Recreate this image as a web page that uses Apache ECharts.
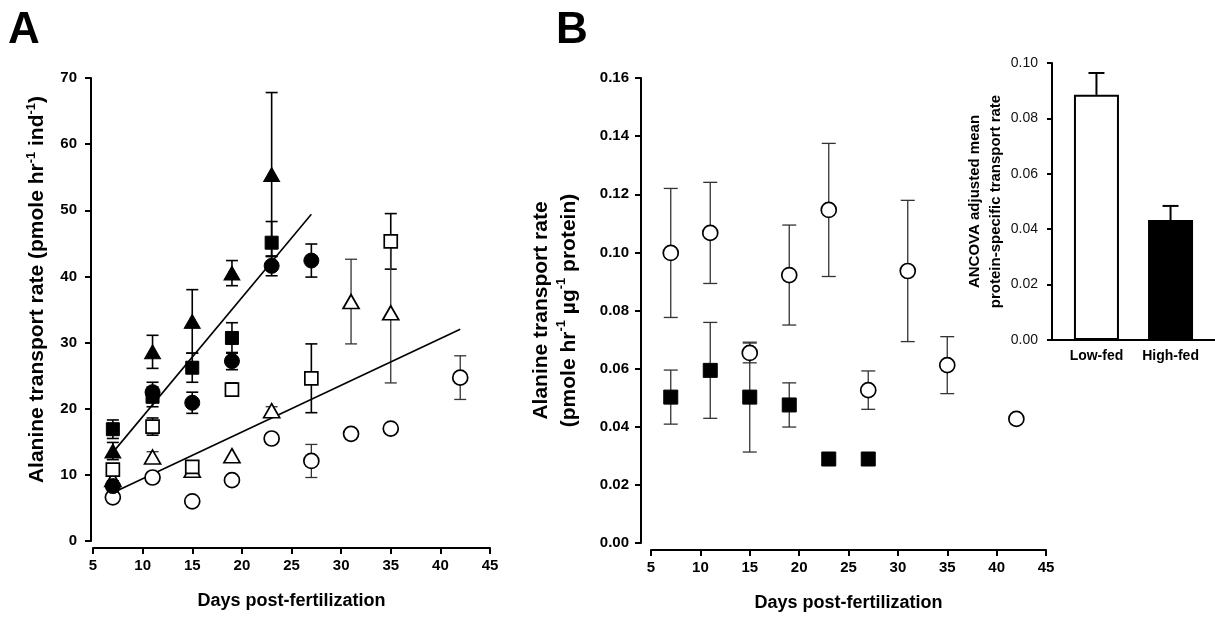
<!DOCTYPE html>
<html>
<head>
<meta charset="utf-8">
<script src="https://cdn.jsdelivr.net/npm/echarts@6/dist/echarts.min.js"></script>
<style>
  html, body { margin: 0; padding: 0; background: #fff; }
  #chart { width: 1215px; height: 633px; }
</style>
</head>
<body>
<div id="chart"></div>
<script>
// ---- Panel A: per-individual alanine transport rate ----
// filled triangles
const triFilledDays = [7, 11, 15, 19, 23];
const triFilledMean = [13.6, 28.6, 33.2, 40.5, 55.4];
const triFilledErr  = [1.3, 2.5, 4.8, 1.9, 12.4];
// filled squares
const sqFilledDays = [7, 11, 15, 19, 23];
const sqFilledMean = [16.9, 21.8, 26.2, 30.7, 45.1];
const sqFilledErr  = [1.4, 1.5, 2.2, 2.3, 3.2];
// filled circles
const ciFilledDays = [7, 11, 15, 19, 23, 27];
const ciFilledMean = [8.3, 22.5, 20.9, 27.2, 41.6, 42.4];
const ciFilledErr  = [0.8, 1.5, 1.6, 1.3, 1.5, 2.5];
// open squares
const sqOpenDays = [7, 11, 15, 19, 27, 35];
const sqOpenMean = [10.8, 17.3, 11.2, 22.9, 24.6, 45.3];
const sqOpenErr  = [0.8, 1.3, 0.5, 1.0, 5.2, 4.2];
// open triangles
const triOpenDays = [7, 11, 15, 19, 23, 31, 35];
const triOpenMean = [9.3, 12.7, 10.7, 12.9, 19.7, 36.2, 34.5];
const triOpenErr  = [0, 0.8, 0, 0, 0.6, 6.4, 10.6];
// open circles
const ciOpenDays = [7, 11, 15, 19, 23, 27, 31, 35, 42];
const ciOpenMean = [6.6, 9.6, 6.0, 9.2, 15.5, 12.1, 16.2, 17.0, 24.7];
const ciOpenErr  = [0, 0, 0, 0, 0, 2.5, 0, 0, 3.3];

// fitted regression lines (end points)
const fitHighDays = [7, 27];
const fitHighVals = [13.4, 49.4];
const fitLowDays  = [7, 42];
const fitLowVals  = [7.3, 32.0];

// ---- Panel B: protein-specific transport rate ----
const lowFedDays = [7, 11, 15, 19, 23, 27, 31, 35, 42];
const lowFedMean = [0.0998, 0.1067, 0.0654, 0.0922, 0.1146, 0.0526, 0.0936, 0.0612, 0.0427];
const lowFedErr  = [0.0222, 0.0174, 0.0034, 0.0172, 0.0229, 0.0066, 0.0243, 0.0098, 0];
const highFedDays = [7, 11, 15, 19, 23, 27];
const highFedMean = [0.0502, 0.0594, 0.0502, 0.0475, 0.0289, 0.0289];
const highFedErr  = [0.0093, 0.0165, 0.0189, 0.0076, 0, 0];

// ---- Inset: ANCOVA adjusted means ----
const insetGroups = ['Low-fed', 'High-fed'];
const insetMean = [0.0885, 0.0433];
const insetErr  = [0.0079, 0.0051];

const FONT = '"Liberation Sans", Arial, sans-serif';

function pairs(xs, ys) { return xs.map((x, i) => [x, ys[i]]); }
function errRows(xs, ys, es) {
  const out = [];
  xs.forEach((x, i) => { if (es[i] > 0) out.push([x, ys[i] - es[i], ys[i] + es[i]]); });
  return out;
}

function errorBarSeries(rows, xi, color, width, capHalf) {
  return {
    type: 'custom', xAxisIndex: xi, yAxisIndex: xi, z: 1, silent: true,
    data: rows,
    renderItem: function (params, api) {
      const lo = api.coord([api.value(0), api.value(1)]);
      const hi = api.coord([api.value(0), api.value(2)]);
      const st = { stroke: color, lineWidth: width, fill: null };
      return {
        type: 'group',
        children: [
          { type: 'line', shape: { x1: lo[0], y1: lo[1], x2: hi[0], y2: hi[1] }, style: st },
          { type: 'line', shape: { x1: lo[0] - capHalf, y1: lo[1], x2: lo[0] + capHalf, y2: lo[1] }, style: st },
          { type: 'line', shape: { x1: hi[0] - capHalf, y1: hi[1], x2: hi[0] + capHalf, y2: hi[1] }, style: st }
        ]
      };
    }
  };
}

function markers(data, xi, symbol, size, filled) {
  return {
    type: 'scatter', xAxisIndex: xi, yAxisIndex: xi, z: 5, silent: true,
    symbol: symbol, symbolSize: size, data: data,
    itemStyle: filled
      ? { color: '#000', borderColor: '#000', borderWidth: 1, opacity: 1 }
      : { color: '#fff', borderColor: '#000', borderWidth: 1.7, opacity: 1 }
  };
}

function fitLine(xs, ys) {
  return {
    type: 'line', xAxisIndex: 0, yAxisIndex: 0, z: 3, silent: true,
    showSymbol: false, symbol: 'none', data: pairs(xs, ys),
    lineStyle: { color: '#000', width: 1.6 }
  };
}

const axisLineBold = { show: true, onZero: false, lineStyle: { color: '#000', width: 2 } };
const tickBold = { show: true, inside: false, length: 6, lineStyle: { color: '#000', width: 2 } };
const boldLabel = { fontFamily: FONT, fontWeight: 'bold', fontSize: 15, color: '#000' };
const supRich = {
  sup: { fontFamily: FONT, fontWeight: 'bold', fontSize: 13, verticalAlign: 'top', lineHeight: 14, color: '#000' }
};
const titleStyle = { fontFamily: FONT, fontWeight: 'bold', fontSize: 18, color: '#000' };

const option = {
  backgroundColor: '#fff',
  animation: false,
  grid: [
    { left: 93, top: 78, width: 397, height: 463 },
    { left: 651, top: 78, width: 395, height: 465 },
    { left: 1052, top: 63, width: 163, height: 277 }
  ],
  xAxis: [
    {
      gridIndex: 0, type: 'value', min: 5, max: 45, interval: 5, offset: 7,
      axisLine: axisLineBold, axisTick: tickBold, splitLine: { show: false },
      axisLabel: Object.assign({ margin: 10 }, boldLabel),
      name: 'Days post-fertilization', nameLocation: 'middle', nameGap: 44,
      nameTextStyle: titleStyle
    },
    {
      gridIndex: 1, type: 'value', min: 5, max: 45, interval: 5, offset: 7,
      axisLine: axisLineBold, axisTick: tickBold, splitLine: { show: false },
      axisLabel: Object.assign({ margin: 10 }, boldLabel),
      name: 'Days post-fertilization', nameLocation: 'middle', nameGap: 44,
      nameTextStyle: titleStyle
    },
    {
      gridIndex: 2, type: 'value', min: -0.6, max: 1.6,
      axisLine: axisLineBold, splitLine: { show: false },
      axisTick: { show: false },
      axisLabel: Object.assign({ margin: 9, customValues: [0, 1],
        formatter: v => insetGroups[Math.round(v)] }, boldLabel, { fontSize: 14 })
    }
  ],
  yAxis: [
    {
      gridIndex: 0, type: 'value', min: 0, max: 70, interval: 10, offset: 2,
      axisLine: axisLineBold, axisTick: tickBold, splitLine: { show: false },
      axisLabel: Object.assign({ margin: 14 }, boldLabel),
      name: 'Alanine transport rate (pmole hr{sup|-1} ind{sup|-1})',
      nameLocation: 'middle', nameRotate: 90, nameGap: 42,
      nameTextStyle: { fontFamily: FONT, fontWeight: 'bold', fontSize: 21, color: '#000',
        lineHeight: 24, padding: [0, 0, 0, 40], rich: supRich }
    },
    {
      gridIndex: 1, type: 'value', min: 0, max: 0.16, interval: 0.02, offset: 10,
      axisLine: axisLineBold, axisTick: tickBold, splitLine: { show: false },
      axisLabel: Object.assign({ margin: 12, formatter: v => v.toFixed(2) }, boldLabel),
      name: 'Alanine transport rate\n(pmole hr{sup|-1} \u00b5g{sup|-1} protein)',
      nameLocation: 'middle', nameRotate: 90, nameGap: 58,
      nameTextStyle: { fontFamily: FONT, fontWeight: 'bold', fontSize: 21, color: '#000', lineHeight: 28, rich: supRich }
    },
    {
      gridIndex: 2, type: 'value', min: 0, max: 0.1, interval: 0.02,
      axisLine: axisLineBold, axisTick: { show: true, length: 5, lineStyle: { color: '#000', width: 2 } },
      splitLine: { show: false },
      axisLabel: { margin: 14, fontFamily: FONT, fontSize: 14, color: '#111', formatter: v => v.toFixed(2) },
      name: 'ANCOVA adjusted mean\nprotein-specific transport rate',
      nameLocation: 'middle', nameRotate: 90, nameGap: 46,
      nameTextStyle: { fontFamily: FONT, fontWeight: 'bold', fontSize: 15, color: '#000', lineHeight: 21 }
    }
  ],
  graphic: [
    { type: 'text', left: 8, top: 9, style: { text: 'A', fontFamily: FONT, fontWeight: 'bold', fontSize: 44, fill: '#000' } },
    { type: 'text', left: 556, top: 9, style: { text: 'B', fontFamily: FONT, fontWeight: 'bold', fontSize: 44, fill: '#000' } }
  ],
  series: [
    // panel A error bars
    errorBarSeries(errRows(triFilledDays, triFilledMean, triFilledErr), 0, '#000', 1.6, 6),
    errorBarSeries(errRows(sqFilledDays, sqFilledMean, sqFilledErr), 0, '#000', 1.6, 6),
    errorBarSeries(errRows(ciFilledDays, ciFilledMean, ciFilledErr), 0, '#000', 1.6, 6),
    errorBarSeries(errRows(sqOpenDays, sqOpenMean, sqOpenErr), 0, '#000', 1.6, 6),
    errorBarSeries(errRows(triOpenDays, triOpenMean, triOpenErr), 0, '#333', 1.3, 6),
    errorBarSeries(errRows(ciOpenDays, ciOpenMean, ciOpenErr), 0, '#333', 1.3, 6),
    fitLine(fitHighDays, fitHighVals),
    fitLine(fitLowDays, fitLowVals),
    markers(pairs(ciOpenDays, ciOpenMean), 0, 'circle', 15, false),
    markers(pairs(triOpenDays, triOpenMean), 0, 'triangle', [16, 14], false),
    markers(pairs(sqOpenDays, sqOpenMean), 0, 'rect', 13, false),
    markers(pairs(ciFilledDays, ciFilledMean), 0, 'circle', 15, true),
    markers(pairs(sqFilledDays, sqFilledMean), 0, 'rect', 13, true),
    markers(pairs(triFilledDays, triFilledMean), 0, 'triangle', [16, 14], true),

    // panel B
    errorBarSeries(errRows(lowFedDays, lowFedMean, lowFedErr), 1, '#333', 1.3, 7),
    errorBarSeries(errRows(highFedDays, highFedMean, highFedErr), 1, '#333', 1.3, 7),
    markers(pairs(lowFedDays, lowFedMean), 1, 'circle', 15, false),
    markers(pairs(highFedDays, highFedMean), 1, 'rect', 14, true),

    // inset bars with upper error bars
    {
      type: 'bar', xAxisIndex: 2, yAxisIndex: 2, barWidth: 45, z: 2, silent: true,
      data: insetMean.map((v, i) => ({
        value: [i, v],
        itemStyle: { color: i === 0 ? '#fff' : '#000', borderColor: '#000', borderWidth: 2 }
      }))
    },
    {
      type: 'custom', xAxisIndex: 2, yAxisIndex: 2, z: 1, silent: true,
      data: insetMean.map((v, i) => [i, v, v + insetErr[i]]),
      renderItem: function (params, api) {
        const lo = api.coord([api.value(0), api.value(1)]);
        const hi = api.coord([api.value(0), api.value(2)]);
        const st = { stroke: '#000', lineWidth: 2, fill: null };
        return {
          type: 'group',
          children: [
            { type: 'line', shape: { x1: lo[0], y1: lo[1], x2: hi[0], y2: hi[1] }, style: st },
            { type: 'line', shape: { x1: hi[0] - 8, y1: hi[1], x2: hi[0] + 8, y2: hi[1] }, style: st }
          ]
        };
      }
    }
  ]
};

const chart = echarts.init(document.getElementById('chart'), null, { renderer: 'canvas' });
chart.setOption(option);
</script>
</body>
</html>
